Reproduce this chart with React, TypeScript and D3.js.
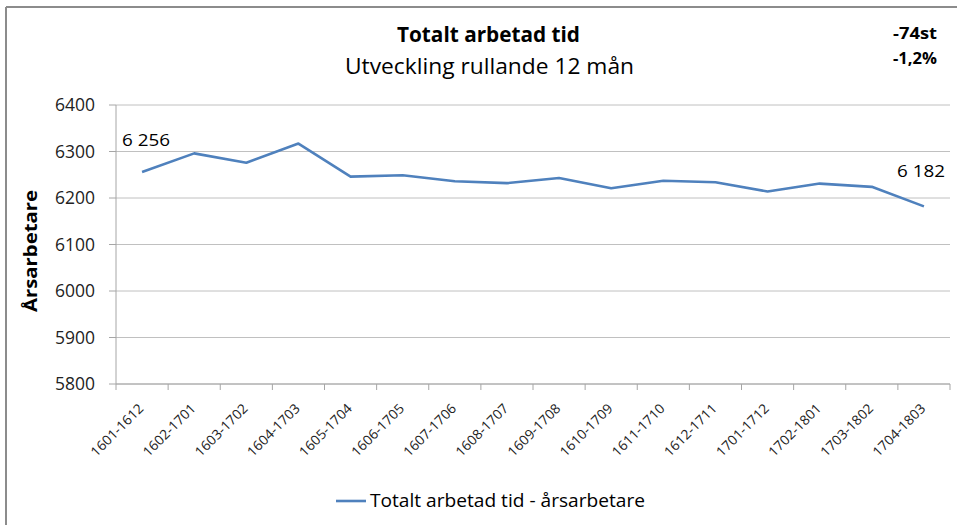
import React from "react";
import * as d3 from "d3";

const categories = [
  "1601-1612", "1602-1701", "1603-1702", "1604-1703", "1605-1704", "1606-1705",
  "1607-1706", "1608-1707", "1609-1708", "1610-1709", "1611-1710", "1612-1711",
  "1701-1712", "1702-1801", "1703-1802", "1704-1803",
];
const values = [6256, 6296, 6276, 6317, 6246, 6249, 6236, 6232, 6243, 6221, 6237, 6234, 6214, 6231, 6224, 6182];
const yTicks = [5800, 5900, 6000, 6100, 6200, 6300, 6400];
const title = "Totalt arbetad tid";
const subtitle = "Utveckling rullande 12 mån";
const changeAbs = "-74st";
const changePct = "-1,2%";
const seriesName = "Totalt arbetad tid -  årsarbetare";
const yTitle = "Årsarbetare";

const FONT = "'Open Sans', Lato, sans-serif";

export default function App() {
  const W = 957, H = 525;
  const left = 116, right = 950, top = 105, bottom = 384;
  const x = d3.scaleBand<string>().domain(categories).range([left, right]);
  const y = d3.scaleLinear().domain([5800, 6400]).range([bottom, top]);
  const line = d3.line<number>()
    .x((_, i) => (x(categories[i]) as number) + x.bandwidth() / 2)
    .y((d) => y(d));
  const bounds = categories.map((c) => x(c) as number).concat([right]);
  const first = values[0], last = values[values.length - 1];
  const fmt = (v: number) => d3.format(",")(v).replace(",", " ");
  const cx = (i: number) => (x(categories[i]) as number) + x.bandwidth() / 2;
  const LA = "spacingAndGlyphs";

  return (
    <svg width={W} height={H} style={{ position: "absolute", left: 0, top: 0, background: "#fff" }}>
      <rect x={0} y={0} width={W} height={H} fill="#fff" />
      {/* frame */}
      <line x1={6} y1={7} x2={W} y2={7} stroke="#8c8c8c" strokeWidth={2} />
      <line x1={6} y1={7} x2={6} y2={H} stroke="#8c8c8c" strokeWidth={2} />

      {/* titles */}
      <text x={397} y={42} textLength={183} lengthAdjust={LA} fontFamily={FONT} fontWeight="bold" fontSize={21} fill="#000">{title}</text>
      <text x={345} y={74} textLength={289} lengthAdjust={LA} fontFamily={FONT} fontSize={21} fill="#000">{subtitle}</text>
      <text x={893} y={39} textLength={44} lengthAdjust={LA} fontFamily={FONT} fontWeight="bold" fontSize={16} fill="#000">{changeAbs}</text>
      <text x={893} y={64} textLength={44} lengthAdjust={LA} fontFamily={FONT} fontWeight="bold" fontSize={16} fill="#000">{changePct}</text>

      {/* gridlines */}
      {yTicks.map((t) => (
        <g key={t}>
          <line x1={left} x2={right} y1={y(t)} y2={y(t)} stroke="#c0c0c0" strokeWidth={1} />
          <line x1={left - 7} x2={left} y1={y(t)} y2={y(t)} stroke="#a6a6a6" strokeWidth={1} />
          <text x={95} y={y(t)} dy="0.36em" textAnchor="end" textLength={40} lengthAdjust={LA} fontFamily={FONT} fontSize={18} fill="#222">{t}</text>
        </g>
      ))}
      <line x1={left} x2={left} y1={top} y2={bottom} stroke="#a6a6a6" strokeWidth={1} />
      <line x1={left} x2={right} y1={bottom} y2={bottom} stroke="#a6a6a6" strokeWidth={1} />
      {bounds.map((b, i) => (
        <line key={i} x1={b} x2={b} y1={bottom} y2={bottom + 6} stroke="#a6a6a6" strokeWidth={1} />
      ))}
      {categories.map((c, i) => (
        <text key={c} transform={`translate(${cx(i) - 1},${bottom + 22}) rotate(-45)`} textAnchor="end" dy="0.35em"
          textLength={68} lengthAdjust={LA} fontFamily={FONT} fontSize={13.5} fill="#222">{c}</text>
      ))}

      {/* y title */}
      <text transform={`translate(37,251) rotate(-90)`} textAnchor="middle" textLength={122} lengthAdjust={LA} fontFamily={FONT} fontWeight="bold" fontSize={18} fill="#000">{yTitle}</text>

      {/* series */}
      <path d={line(values) || ""} fill="none" stroke="#4F81BD" strokeWidth={2.6} strokeLinejoin="round" />
      <text x={122} y={146} textLength={48} lengthAdjust={LA} fontFamily={FONT} fontSize={17} fill="#000">{fmt(first)}</text>
      <text x={897} y={177} textLength={48} lengthAdjust={LA} fontFamily={FONT} fontSize={17} fill="#000">{fmt(last)}</text>

      {/* legend */}
      <line x1={336} x2={366} y1={501} y2={501} stroke="#4F81BD" strokeWidth={2.6} />
      <text x={370} y={501} dy="0.35em" textLength={275} lengthAdjust={LA} fontFamily={FONT} fontSize={18} fill="#000">{seriesName}</text>
    </svg>
  );
}
